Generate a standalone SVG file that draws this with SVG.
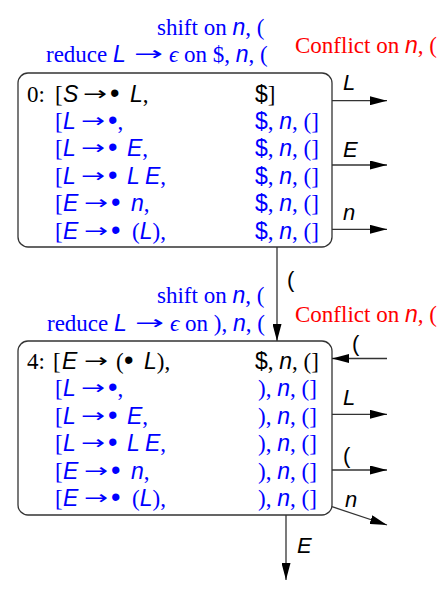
<svg xmlns="http://www.w3.org/2000/svg" width="447" height="591" viewBox="0 0 447 591">
<style>
.t{font-family:"Liberation Serif","Times New Roman",serif;font-size:23px;fill:#000}
.v{font-family:"Liberation Sans",Arial,sans-serif;font-style:italic}
.s{font-family:"Liberation Sans",Arial,sans-serif}
.ar{font-family:"DejaVu Sans",sans-serif;font-size:19px}
.b{font-family:"Liberation Sans",Arial,sans-serif;font-size:27px}
.blue{fill:#0000ff}
.red{fill:#ff0000}
.box{fill:#fff;stroke:#333;stroke-width:1.3}
.edge{stroke:#333;stroke-width:1.3;fill:none;marker-end:url(#ah)}
.lbl{font-family:"Liberation Sans",Arial,sans-serif;font-size:22px;font-style:italic;fill:#000}
.lp{font-family:"Liberation Sans",Arial,sans-serif;font-size:22px;fill:#000}
</style>
<defs>
<marker id="ah" markerUnits="userSpaceOnUse" markerWidth="17" markerHeight="9" refX="17" refY="4.5" orient="auto">
<path d="M0,0 L17,4.5 L0,9 z" fill="#000"/>
</marker>
</defs>

<g id="annot0">
<text class="t blue" x="157" y="35">shift on <tspan class="v">n</tspan>, (</text>
<text class="t blue" x="46" y="62">reduce <tspan class="v">L</tspan></text>
<text class="t blue ar" x="134" y="60" textLength="29" lengthAdjust="spacingAndGlyphs">→</text>
<text class="t blue" x="169" y="62"><tspan font-style="italic">ϵ</tspan> on $, <tspan class="v">n</tspan>, (</text>
<text class="t red" x="295" y="53">Conflict on <tspan class="v">n</tspan>, (</text>
</g>

<g id="state0">
<rect class="box" x="18" y="73" width="314" height="174" rx="10"/>
<text class="t" y="101.5"><tspan x="27">0:</tspan><tspan x="55">[</tspan><tspan x="63" class="v">S</tspan><tspan x="110" class="b">•</tspan><tspan x="130" class="v">L</tspan>,<tspan x="255" class="s">$</tspan>]</text>
<text class="t ar" x="83" y="99.5" textLength="24" lengthAdjust="spacingAndGlyphs">→</text>
<text class="t blue" y="129"><tspan x="55">[</tspan><tspan x="63" class="v">L</tspan><tspan x="108" class="b">•</tspan>,<tspan x="255" class="s">$</tspan>, <tspan class="v">n</tspan>, (]</text>
<text class="t blue ar" x="81" y="127" textLength="24" lengthAdjust="spacingAndGlyphs">→</text>
<text class="t blue" y="156.3"><tspan x="55">[</tspan><tspan x="63" class="v">L</tspan><tspan x="108" class="b">•</tspan><tspan x="127" class="v">E</tspan>,<tspan x="255" class="s">$</tspan>, <tspan class="v">n</tspan>, (]</text>
<text class="t blue ar" x="81" y="154.3" textLength="24" lengthAdjust="spacingAndGlyphs">→</text>
<text class="t blue" y="183.7"><tspan x="55">[</tspan><tspan x="63" class="v">L</tspan><tspan x="108" class="b">•</tspan><tspan x="127" class="v">L</tspan><tspan x="145" class="v">E</tspan>,<tspan x="255" class="s">$</tspan>, <tspan class="v">n</tspan>, (]</text>
<text class="t blue ar" x="81" y="181.7" textLength="24" lengthAdjust="spacingAndGlyphs">→</text>
<text class="t blue" y="211"><tspan x="55">[</tspan><tspan x="63" class="v">E</tspan><tspan x="111" class="b">•</tspan><tspan x="131" class="v">n</tspan>,<tspan x="255" class="s">$</tspan>, <tspan class="v">n</tspan>, (]</text>
<text class="t blue ar" x="84" y="209" textLength="24" lengthAdjust="spacingAndGlyphs">→</text>
<text class="t blue" y="238.5"><tspan x="55">[</tspan><tspan x="63" class="v">E</tspan><tspan x="111" class="b">•</tspan><tspan x="132">(</tspan><tspan class="v">L</tspan>),<tspan x="255" class="s">$</tspan>, <tspan class="v">n</tspan>, (]</text>
<text class="t blue ar" x="84" y="236.5" textLength="24" lengthAdjust="spacingAndGlyphs">→</text>
</g>

<g id="annot4">
<text class="t blue" x="157" y="303">shift on <tspan class="v">n</tspan>, (</text>
<text class="t blue" x="47" y="331">reduce <tspan class="v">L</tspan></text>
<text class="t blue ar" x="135" y="329" textLength="29" lengthAdjust="spacingAndGlyphs">→</text>
<text class="t blue" x="170" y="331"><tspan font-style="italic">ϵ</tspan> on ), <tspan class="v">n</tspan>, (</text>
<text class="t red" x="295" y="322">Conflict on <tspan class="v">n</tspan>, (</text>
</g>

<g id="state4">
<rect class="box" x="18" y="341" width="314" height="174" rx="10"/>
<text class="t" y="369"><tspan x="27">4:</tspan><tspan x="53">[</tspan><tspan x="62" class="v">E</tspan><tspan x="116">(</tspan><tspan x="124" class="b">•</tspan><tspan x="144" class="v">L</tspan>),<tspan x="255" class="s">$</tspan>, <tspan class="v">n</tspan>, (]</text>
<text class="t ar" x="84" y="367" textLength="24" lengthAdjust="spacingAndGlyphs">→</text>
<text class="t blue" y="396.4"><tspan x="55">[</tspan><tspan x="63" class="v">L</tspan><tspan x="108" class="b">•</tspan>,<tspan x="258">)</tspan>, <tspan class="v">n</tspan>, (]</text>
<text class="t blue ar" x="81" y="394.4" textLength="24" lengthAdjust="spacingAndGlyphs">→</text>
<text class="t blue" y="423.8"><tspan x="55">[</tspan><tspan x="63" class="v">L</tspan><tspan x="108" class="b">•</tspan><tspan x="127" class="v">E</tspan>,<tspan x="258">)</tspan>, <tspan class="v">n</tspan>, (]</text>
<text class="t blue ar" x="81" y="421.8" textLength="24" lengthAdjust="spacingAndGlyphs">→</text>
<text class="t blue" y="451.2"><tspan x="55">[</tspan><tspan x="63" class="v">L</tspan><tspan x="108" class="b">•</tspan><tspan x="127" class="v">L</tspan><tspan x="145" class="v">E</tspan>,<tspan x="258">)</tspan>, <tspan class="v">n</tspan>, (]</text>
<text class="t blue ar" x="81" y="449.2" textLength="24" lengthAdjust="spacingAndGlyphs">→</text>
<text class="t blue" y="478.6"><tspan x="55">[</tspan><tspan x="63" class="v">E</tspan><tspan x="111" class="b">•</tspan><tspan x="131" class="v">n</tspan>,<tspan x="258">)</tspan>, <tspan class="v">n</tspan>, (]</text>
<text class="t blue ar" x="84" y="476.6" textLength="24" lengthAdjust="spacingAndGlyphs">→</text>
<text class="t blue" y="506"><tspan x="55">[</tspan><tspan x="63" class="v">E</tspan><tspan x="111" class="b">•</tspan><tspan x="132">(</tspan><tspan class="v">L</tspan>),<tspan x="258">)</tspan>, <tspan class="v">n</tspan>, (]</text>
<text class="t blue ar" x="84" y="504" textLength="24" lengthAdjust="spacingAndGlyphs">→</text>
</g>

<g id="connectors">
<line class="edge" x1="332" y1="100.7" x2="387" y2="100.7"/>
<line class="edge" x1="332" y1="165" x2="387" y2="165"/>
<line class="edge" x1="332" y1="229.3" x2="387" y2="229.3"/>
<line class="edge" x1="277" y1="247" x2="277" y2="341"/>
<line class="edge" x1="387" y1="358.5" x2="332" y2="358.5"/>
<line class="edge" x1="332" y1="414.3" x2="387" y2="414.3"/>
<line class="edge" x1="332" y1="470" x2="387" y2="470"/>
<line class="edge" x1="332" y1="506.7" x2="387" y2="525"/>
<line class="edge" x1="286" y1="515" x2="286" y2="580"/>
<text class="lbl" x="343" y="90">L</text>
<text class="lbl" x="343" y="157">E</text>
<text class="lbl" x="343" y="220">n</text>
<text class="lp" x="287" y="287">(</text>
<text class="lp" x="352" y="351">(</text>
<text class="lbl" x="343" y="405">L</text>
<text class="lp" x="343" y="463">(</text>
<text class="lbl" x="345" y="507">n</text>
<text class="lbl" x="297" y="553">E</text>
</g>
</svg>
